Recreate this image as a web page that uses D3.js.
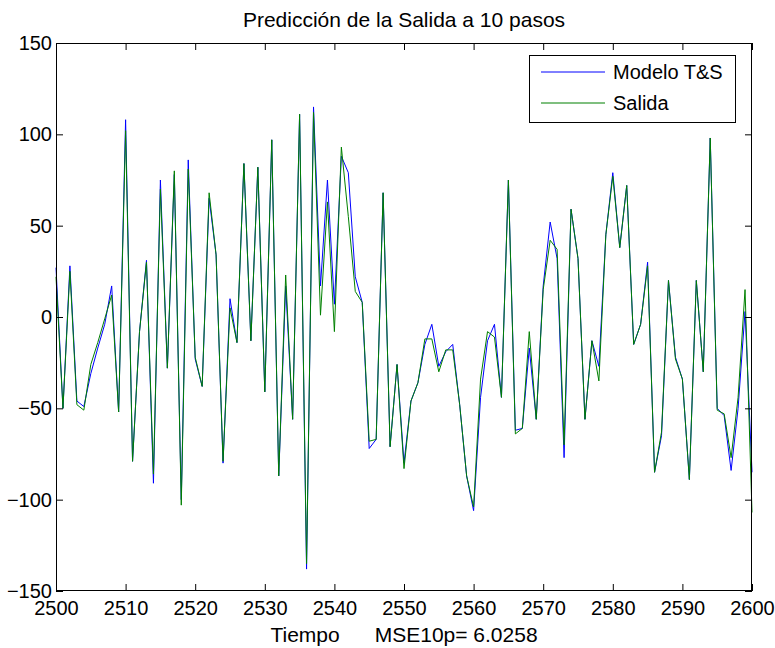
<!DOCTYPE html>
<html>
<head>
<meta charset="utf-8">
<script src="https://cdn.jsdelivr.net/npm/d3@7/dist/d3.min.js"></script>
<style>
  html, body { margin: 0; padding: 0; background: #fff; }
  svg { display: block; }
  text { font-family: "Liberation Sans", Arial, Helvetica, sans-serif; fill: #000; }
</style>
</head>
<body>
<svg id="chart" width="775" height="648"></svg>
<script>
// Time window of the prediction run
const startTime = 2500;
const endTime = 2600;

// Ten-step-ahead prediction of the T&S fuzzy model
const modelo = [
  27, -50, 28, -46, -49, -31, -17, -4, 17, -52,
  108, -79, -8, 31, -91, 75, -28, 78, -100, 86,
  -23, -38, 65, 34, -80, 10, -14, 84, -13, 82,
  -41, 97, -87, 17, -56, 111, -138, 115, 17, 75,
  7, 88, 79, 22, 8, -72, -67, 68, -71, -26,
  -80, -46, -36, -15, -4, -27, -19, -15, -48, -87,
  -106, -44, -13, -4, -44, 75, -62, -61, -17, -56,
  17, 52, 32, -77, 59, 32, -56, -13, -27, 45,
  79, 38, 72, -15, -4, 30, -85, -65, 20, -22,
  -34, -89, 20, -30, 98, -50, -54, -84, -50, 3,
  -85
];

// Measured plant output
const salida = [
  22, -50, 25, -48, -51, -26, -14, -1, 12, -52,
  102, -79, -8, 30, -86, 70, -28, 80, -103, 81,
  -22, -38, 68, 34, -79, 5, -14, 84, -13, 82,
  -41, 97, -87, 23, -56, 111, -135, 112, 1, 63,
  -8, 93, 55, 14, 8, -68, -67, 68, -71, -26,
  -83, -46, -36, -12, -12, -30, -18, -18, -48, -87,
  -104, -34, -8, -11, -44, 75, -64, -61, -8, -56,
  15, 42, 37, -70, 59, 32, -56, -13, -35, 45,
  77, 38, 72, -15, -4, 28, -85, -63, 20, -23,
  -34, -89, 20, -30, 98, -51, -53, -77, -44, 15,
  -107
];

const xTicks = [2500, 2510, 2520, 2530, 2540, 2550, 2560, 2570, 2580, 2590, 2600];
const yTicks = [-150, -100, -50, 0, 50, 100, 150];

const seriesNames = ["Modelo T&S", "Salida"];
const seriesColors = ["#0000ff", "#008000"];

const titleText = "Predicción de la Salida a 10 pasos";
const xLabelText = "Tiempo      MSE10p= 6.0258";

// Layout
const margin = { left: 56, right: 23, top: 43, bottom: 57 };
const W = 775, H = 648;
const plotW = W - margin.left - margin.right;
const plotH = H - margin.top - margin.bottom;
const tickLen = 7;

const svg = d3.select("#chart");
const g = svg.append("g").attr("transform", `translate(${margin.left},${margin.top})`);

const x = d3.scaleLinear().domain([startTime, endTime]).range([0, plotW]);
const y = d3.scaleLinear().domain([-150, 150]).range([plotH, 0]);

g.append("rect").attr("width", plotW).attr("height", plotH).attr("fill", "#fff");

g.append("clipPath").attr("id", "plot-clip")
  .append("rect").attr("x", -1).attr("y", -1).attr("width", plotW + 2).attr("height", plotH + 2);

// Series lines
const line = d3.line()
  .x((d, i) => x(startTime + i))
  .y(d => y(d));

const lines = g.append("g").attr("clip-path", "url(#plot-clip)");
[modelo, salida].forEach((vals, k) => {
  lines.append("path")
    .datum(vals)
    .attr("fill", "none")
    .attr("stroke", seriesColors[k])
    .attr("stroke-width", 1)
    .attr("stroke-linejoin", "round")
    .attr("d", line);
});

// Axes: ticks point inward, mirrored on the top and right edges
const fontSize = 20;
const axBottom = d3.axisBottom(x).tickValues(xTicks).tickFormat(d3.format("d"))
  .tickSizeInner(-tickLen).tickSizeOuter(0).tickPadding(10);
const axLeft = d3.axisLeft(y).tickValues(yTicks).tickFormat(d3.format("d"))
  .tickSizeInner(-tickLen).tickSizeOuter(0).tickPadding(4);
const axTop = d3.axisTop(x).tickValues(xTicks).tickFormat("")
  .tickSizeInner(-tickLen).tickSizeOuter(0);
const axRight = d3.axisRight(y).tickValues(yTicks).tickFormat("")
  .tickSizeInner(-tickLen).tickSizeOuter(0);

function styleAxis(sel) {
  sel.select(".domain").remove();
  sel.selectAll(".tick line").attr("stroke", "#000");
  sel.selectAll(".tick text")
    .style("font-size", fontSize + "px")
    .attr("fill", "#000");
}

g.append("g").attr("transform", `translate(0,${plotH})`).call(axBottom).call(styleAxis)
  .selectAll(".tick text").attr("dy", "0.72em");
g.append("g").call(axLeft).call(styleAxis);
g.append("g").call(axTop).call(styleAxis);
g.append("g").attr("transform", `translate(${plotW},0)`).call(axRight).call(styleAxis);

// Axes box
g.append("rect")
  .attr("x", 0.5).attr("y", 0.5)
  .attr("width", plotW - 1).attr("height", plotH - 1)
  .attr("fill", "none").attr("stroke", "#000").attr("stroke-width", 1);

// Title and axis label
svg.append("text")
  .attr("x", margin.left + plotW / 2).attr("y", 27)
  .attr("text-anchor", "middle")
  .style("font-size", "21px")
  .text(titleText);

svg.append("text")
  .attr("x", margin.left + plotW / 2).attr("y", 642)
  .attr("text-anchor", "middle")
  .style("font-size", "21px")
  .style("white-space", "pre")
  .attr("xml:space", "preserve")
  .text(xLabelText);

// Legend
const lg = svg.append("g").attr("transform", "translate(529,55)");
lg.append("rect").attr("x", 0.5).attr("y", 0.5).attr("width", 206).attr("height", 67)
  .attr("fill", "#fff").attr("stroke", "#000").attr("stroke-width", 1);
seriesNames.forEach((name, k) => {
  const cy = 17 + k * 31;
  lg.append("line")
    .attr("x1", 12).attr("x2", 76).attr("y1", cy).attr("y2", cy)
    .attr("stroke", seriesColors[k])
    .attr("stroke-width", k === 1 ? 2 : 1)
    .attr("stroke-opacity", k === 1 ? 0.5 : 1);
  lg.append("text")
    .attr("x", 84).attr("y", cy).attr("dy", "0.36em")
    .style("font-size", fontSize + "px")
    .text(name);
});
</script>
</body>
</html>
